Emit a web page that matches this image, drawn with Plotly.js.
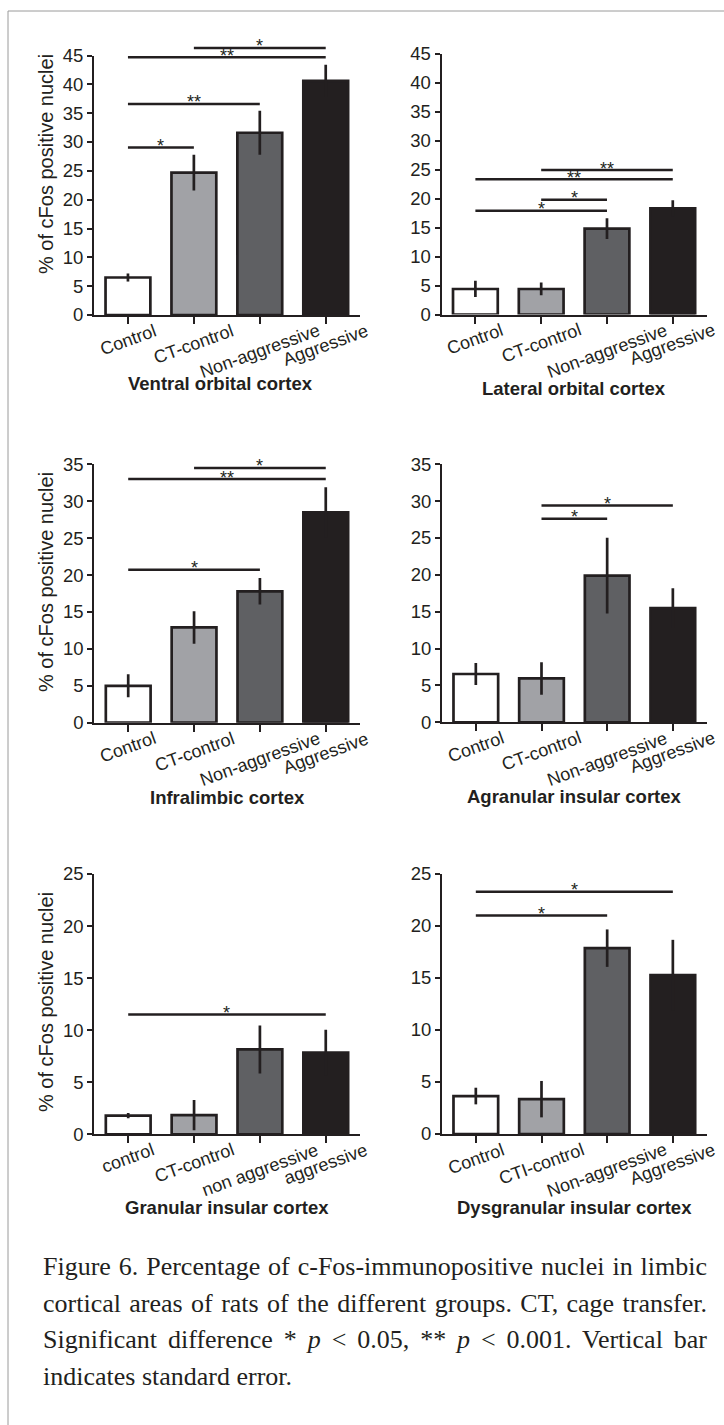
<!DOCTYPE html>
<html><head><meta charset="utf-8">
<script src="https://cdn.plot.ly/plotly-3.0.1.min.js"></script>
<style>
html,body{margin:0;padding:0;background:#fff;}
#wrap{position:relative;width:724px;height:1425px;overflow:hidden;}
#chart{position:absolute;left:0;top:0;width:724px;height:1425px;}
#caption{position:absolute;left:43px;top:1249px;width:664px;font-family:"Liberation Serif","Times New Roman",serif;font-size:26px;line-height:36.7px;color:#231f20;}
#caption .j{text-align:justify;text-align-last:justify;}
#caption .l{text-align:left;}
</style>
</head><body>
<div id="wrap">
<div id="chart"></div>
<div id="caption">
<div class="j">Figure 6. Percentage of c-Fos-immunopositive nuclei in limbic</div>
<div class="j">cortical areas of rats of the different groups. CT, cage transfer.</div>
<div class="j">Significant difference * <i>p</i> &lt; 0.05, ** <i>p</i> &lt; 0.001. Vertical bar</div>
<div class="l">indicates standard error.</div>
</div>
</div>
<script>
// ---------------- data ----------------
const panelTitles = ['Ventral orbital cortex','Lateral orbital cortex','Infralimbic cortex',
                     'Agranular insular cortex','Granular insular cortex','Dysgranular insular cortex'];
const groupsMain = ['Control','CT-control','Non-aggressive','Aggressive'];
const groupsGIC  = ['control','CT-control','non aggressive','aggressive'];
const groupsDIC  = ['Control','CTI-control','Non-aggressive','Aggressive'];
const yTitle = '% of cFos positive nuclei';

const vocMean = [6.5, 24.7, 31.6, 40.6];   const vocSE = [0.7, 3.1, 3.8, 2.8];
const locMean = [4.4, 4.4, 14.8, 18.3];    const locSE = [1.4, 1.1, 1.8, 1.4];
const ilMean  = [5.0, 12.9, 17.8, 28.5];   const ilSE  = [1.55, 2.2, 1.8, 3.4];
const aicMean = [6.55, 5.95, 19.9, 15.5];  const aicSE = [1.5, 2.2, 5.15, 2.7];
const gicMean = [1.79, 1.85, 8.15, 7.84];  const gicSE = [0.25, 1.45, 2.3, 2.2];
const dicMean = [3.65, 3.35, 17.87, 15.27];const dicSE = [0.8, 1.75, 1.8, 3.4];
const yMaxes = [45, 45, 35, 35, 25, 25];

// significance brackets: [from group, to group, level (%), label]
const vocSig = [[0,1,29.05,'*'],[0,2,36.6,'**'],[0,3,44.7,'**'],[1,3,46.3,'*']];
const locSig = [[0,2,17.9,'*'],[1,2,19.8,'*'],[0,3,23.3,'**'],[1,3,24.9,'**']];
const ilSig  = [[0,2,20.7,'*'],[0,3,33.0,'**'],[1,3,34.5,'*']];
const aicSig = [[1,2,27.6,'*'],[1,3,29.4,'*']];
const gicSig = [[0,3,11.5,'*']];
const dicSig = [[0,2,21.0,'*'],[0,3,23.3,'*']];

// ---------------- style / layout ----------------
const W = 724, H = 1425;
const ink = '#231f20';
const barColors = ['#ffffff','#a1a2a6','#5f6063','#231f20'];
const sans = 'Liberation Sans, Arial, sans-serif';

const panels = [
  {groups: groupsMain, mean: vocMean, se: vocSE, sig: vocSig},
  {groups: groupsMain, mean: locMean, se: locSE, sig: locSig},
  {groups: groupsMain, mean: ilMean,  se: ilSE,  sig: ilSig},
  {groups: groupsMain, mean: aicMean, se: aicSE, sig: aicSig},
  {groups: groupsGIC,  mean: gicMean, se: gicSE, sig: gicSig},
  {groups: groupsDIC,  mean: dicMean, se: dicSE, sig: dicSig}
];
// plot boxes in page pixels
const boxes = [
  {l:94,  r:360, t:55.5,  b:315},
  {l:441.5,r:707,t:53.5,  b:314.5},
  {l:94.3,r:360, t:464.3, b:722.7},
  {l:442, r:707, t:464.3, b:722.3},
  {l:94.3,r:360, t:874,   b:1134.3},
  {l:442, r:707, t:874,   b:1134}
];
const titlePos = [{cx:0.477, cy:383},{cx:0.5, cy:388},{cx:0.5, cy:797},
                  {cx:0.5, cy:796},{cx:0.5, cy:1207},{cx:0.5, cy:1207}];
const yTitlePos = [{x:46, y:164},{x:46, y:582},{x:46, y:1002}];

const traces = [], annotations = [], shapes = [];
const layout = {
  width: W, height: H, margin:{l:0,r:0,t:0,b:0,pad:0},
  paper_bgcolor:'#ffffff', plot_bgcolor:'rgba(0,0,0,0)',
  showlegend:false, font:{family:sans, color:ink}
};

panels.forEach((p, k) => {
  const n = k + 1, sn = k + 7;
  const id = n === 1 ? '' : String(n);
  const bx = boxes[k];
  const ymax = yMaxes[k];
  const d0 = 1 - bx.b / H, d1 = 1 - bx.t / H, d2 = 1 - (bx.t - 20) / H;
  layout['xaxis' + id] = {
    domain:[bx.l / W, bx.r / W], anchor:'y' + id, type:'category',
    categoryorder:'array', categoryarray:p.groups, range:[-0.515, 3.52],
    showline:true, linecolor:ink, linewidth:2, ticks:'outside', ticklen:7,
    tickwidth:2, tickcolor:ink, showticklabels:false, showgrid:false,
    zeroline:false, fixedrange:true
  };
  layout['yaxis' + id] = {
    domain:[d0, d1], anchor:'x' + id, range:[0, ymax], tick0:0, dtick:5,
    showline:true, linecolor:ink, linewidth:2, ticks:'outside', ticklen:5,
    tickwidth:2, tickcolor:ink, tickfont:{family:sans, size:18.5, color:ink},
    showgrid:false, zeroline:false, fixedrange:true
  };
  // same scale, taller domain: lets brackets rise above the axis top
  layout['yaxis' + sn] = {
    domain:[d0, d2], anchor:'x' + id, range:[0, ymax * (d2 - d0) / (d1 - d0)],
    visible:false, fixedrange:true
  };
  traces.push({
    type:'bar', x:p.groups, y:p.mean, xaxis:'x' + id, yaxis:'y' + id, width:0.68,
    marker:{color:barColors, line:{color:ink, width:2.7}},
    error_y:{type:'data', array:p.se, visible:true, color:ink, thickness:2.7, width:0},
    hoverinfo:'skip'
  });
  p.sig.forEach(s => {
    traces.push({
      type:'scatter', mode:'lines', x:[p.groups[s[0]], p.groups[s[1]]], y:[s[2], s[2]],
      xaxis:'x' + id, yaxis:'y' + sn, line:{color:ink, width:2.5}, hoverinfo:'skip'
    });
    annotations.push({
      xref:'x' + id, yref:'y' + sn, x:(s[0] + s[1]) / 2, y:s[2], text:s[3],
      showarrow:false, xanchor:'center', yanchor:'middle', yshift:1.5, borderpad:0,
      font:{family:sans, size:18, color:ink}
    });
  });
  p.groups.forEach((g, i) => {
    annotations.push({
      xref:'x' + id, yref:'y' + id, x:i, y:0, text:g, textangle:-20,
      showarrow:false, xanchor:'center', yanchor:'top', yshift:-4, borderpad:0,
      font:{family:sans, size:18, color:ink}
    });
  });
  annotations.push({
    xref:'x' + id + ' domain', yref:'paper', x:titlePos[k].cx, y:1 - titlePos[k].cy / H,
    text:'<b>' + panelTitles[k] + '</b>', showarrow:false, xanchor:'center', yanchor:'middle',
    borderpad:0, font:{family:sans, size:18.5, color:ink}
  });
});

yTitlePos.forEach(t => {
  annotations.push({
    xref:'paper', yref:'paper', x:t.x / W, y:1 - t.y / H, text:yTitle, textangle:-90,
    showarrow:false, xanchor:'center', yanchor:'middle', borderpad:0,
    font:{family:sans, size:20, color:ink}
  });
});

// figure frame (top and left border)
shapes.push({type:'line', xref:'paper', yref:'paper', x0:8/W, x1:1, y0:1-11/H, y1:1-11/H,
             line:{color:'#9a9a9a', width:1}});
shapes.push({type:'line', xref:'paper', yref:'paper', x0:8/W, x1:8/W, y0:1-11/H, y1:0,
             line:{color:'#9a9a9a', width:1}});

layout.annotations = annotations;
layout.shapes = shapes;
Plotly.newPlot('chart', traces, layout, {displayModeBar:false, staticPlot:true});
</script>
</body></html>
